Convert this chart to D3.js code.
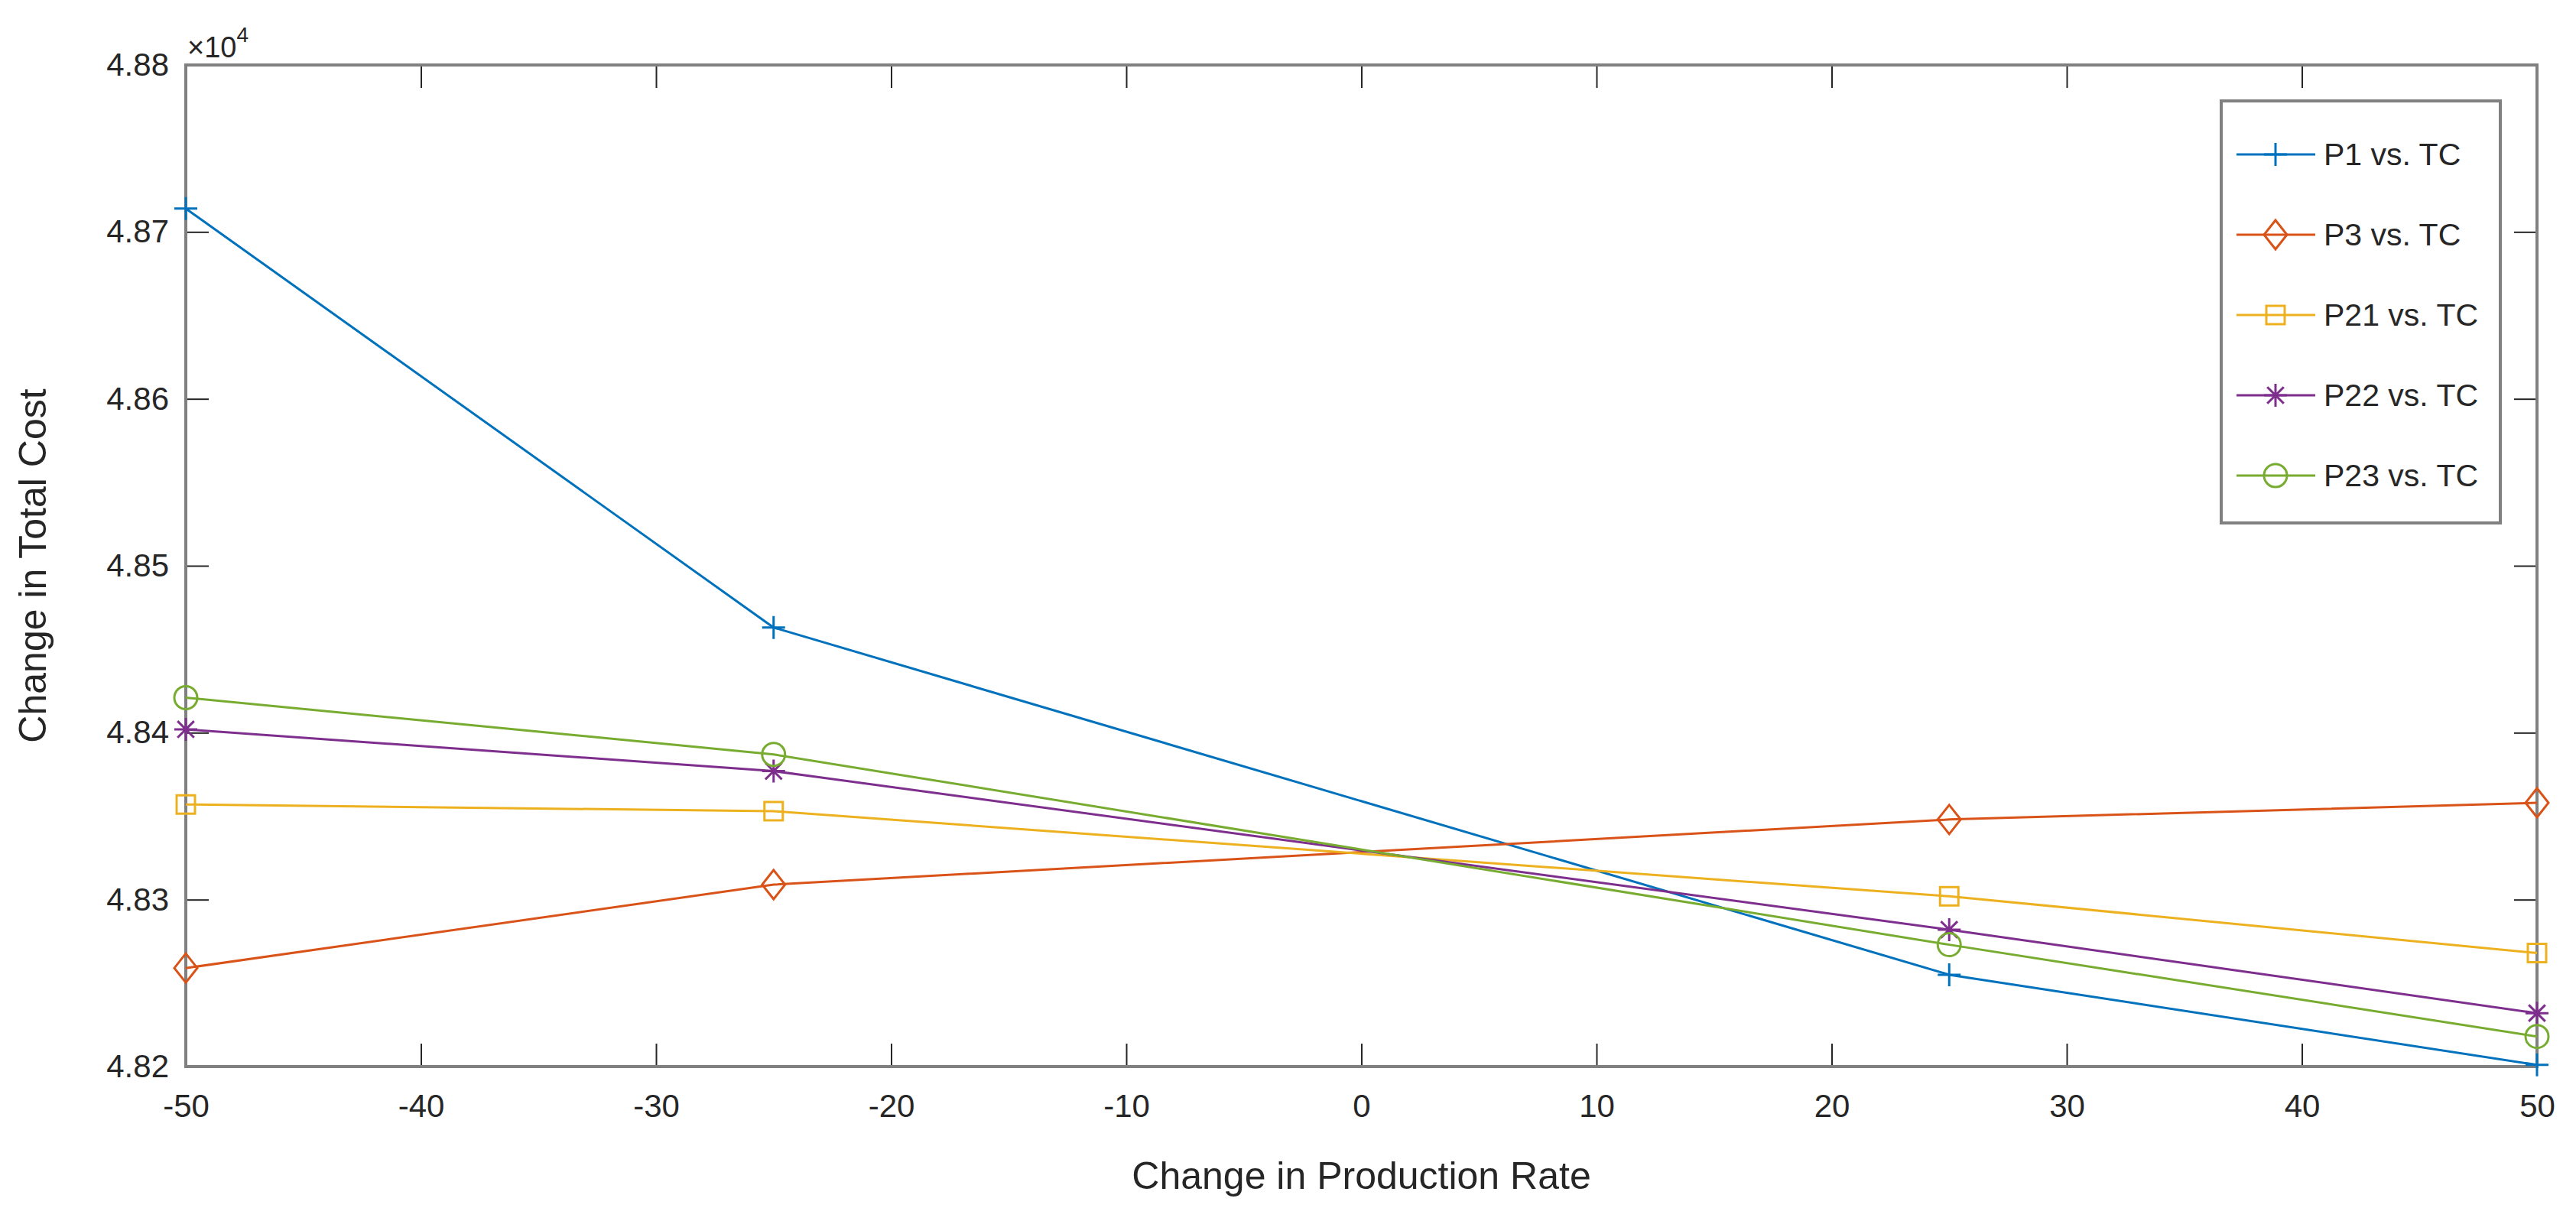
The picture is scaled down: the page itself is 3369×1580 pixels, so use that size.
<!DOCTYPE html>
<html>
<head>
<meta charset="utf-8">
<script src="https://cdn.jsdelivr.net/npm/d3@7"></script>
<style>
  body { margin: 0; background: #fff; }
  text { font-family: "Liberation Sans", Arial, sans-serif; fill: #262626; }
</style>
</head>
<body>
<div class="chart"></div>
<script>
// change in production rate (%)
var xValues = [-50, -25, 25, 50];

// total cost for each parameter
var p1Cost  = [48714, 48463, 48255, 48201];
var p3Cost  = [48259, 48309, 48348, 48358];
var p21Cost = [48357, 48353, 48302, 48268];
var p22Cost = [48402, 48377, 48282, 48232];
var p23Cost = [48421, 48387, 48273, 48218];

var seriesNames = ["P1 vs. TC", "P3 vs. TC", "P21 vs. TC", "P22 vs. TC", "P23 vs. TC"];
var seriesColors = ["#0072BD", "#D95319", "#EDB120", "#7E2F8E", "#77AC30"];
var seriesMarkers = ["plus", "diamond", "square", "star", "circle"];

var xTicks = [-50, -40, -30, -20, -10, 0, 10, 20, 30, 40, 50];
var yTicks = [48200, 48300, 48400, 48500, 48600, 48700, 48800];

var W = 3369, H = 1580;
var margin = {top: 85, right: 51, bottom: 185, left: 243},
    width = W - margin.left - margin.right,
    height = H - margin.top - margin.bottom;

var svg = d3.select(".chart")
    .append("svg")
    .attr("width", W)
    .attr("height", H)
    .append("g")
    .attr("transform", "translate(" + margin.left + "," + margin.top + ")");

var x = d3.scaleLinear().domain([-50, 50]).range([0, width]);
var y = d3.scaleLinear().domain([48200, 48800]).range([height, 0]);

var allSeries = [p1Cost, p3Cost, p21Cost, p22Cost, p23Cost].map(function(vals, i) {
    return {
        name: seriesNames[i],
        color: seriesColors[i],
        marker: seriesMarkers[i],
        points: vals.map(function(v, j) { return {x: xValues[j], y: v}; })
    };
});

// axes with inward ticks on all four sides
var tickLen = 30;
svg.append("g")
    .attr("transform", "translate(0," + height + ")")
    .call(d3.axisBottom(x).tickValues(xTicks).tickSizeInner(-tickLen).tickSizeOuter(0).tickPadding(36)
        .tickFormat(function(d) { return String(d); }))
    .call(styleAxis);
svg.append("g")
    .call(d3.axisTop(x).tickValues(xTicks).tickSizeInner(-tickLen).tickSizeOuter(0).tickFormat(""))
    .call(styleAxis);
svg.append("g")
    .call(d3.axisLeft(y).tickValues(yTicks).tickSizeInner(-tickLen).tickSizeOuter(0).tickPadding(22)
        .tickFormat(function(d) { return (d / 1e4).toFixed(2); }))
    .call(styleAxis);
svg.append("g")
    .attr("transform", "translate(" + width + ",0)")
    .call(d3.axisRight(y).tickValues(yTicks).tickSizeInner(-tickLen).tickSizeOuter(0).tickFormat(""))
    .call(styleAxis);

function styleAxis(g) {
    g.select(".domain").remove();
    g.selectAll(".tick line").attr("stroke", "#262626").attr("stroke-width", 2);
    g.selectAll(".tick text").attr("font-size", "42px").attr("fill", "#262626");
}

svg.append("rect")
    .attr("width", width)
    .attr("height", height)
    .attr("fill", "none")
    .attr("stroke", "#808080")
    .attr("stroke-width", 4);

// exponent label
var expo = svg.append("text")
    .attr("x", 2)
    .attr("y", -10)
    .attr("font-size", "38px");
expo.append("tspan").text("\u00d710");
expo.append("tspan").attr("font-size", "28px").attr("dy", -20).text("4");

// axis titles
svg.append("text")
    .attr("x", width / 2)
    .attr("y", height + 160)
    .attr("text-anchor", "middle")
    .attr("font-size", "50px")
    .text("Change in Production Rate");
svg.append("text")
    .attr("transform", "translate(" + (-183) + "," + (height / 2) + ") rotate(-90)")
    .attr("text-anchor", "middle")
    .attr("font-size", "50px")
    .text("Change in Total Cost");

function drawMarker(g, type, color) {
    var s = 15;
    if (type === "plus") {
        g.append("path").attr("d", "M" + (-s) + ",0H" + s + "M0," + (-s) + "V" + s)
            .attr("stroke", color).attr("stroke-width", 3).attr("fill", "none");
    } else if (type === "diamond") {
        g.append("path").attr("d", "M0," + (-s - 4) + "L" + s + ",0L0," + (s + 4) + "L" + (-s) + ",0Z")
            .attr("stroke", color).attr("stroke-width", 3).attr("fill", "none");
    } else if (type === "square") {
        g.append("rect").attr("x", -12).attr("y", -12).attr("width", 24).attr("height", 24)
            .attr("stroke", color).attr("stroke-width", 3).attr("fill", "none");
    } else if (type === "star") {
        var d = "M" + (-s) + ",0H" + s + "M0," + (-s) + "V" + s;
        var k = s * 0.72;
        d += "M" + (-k) + "," + (-k) + "L" + k + "," + k + "M" + (-k) + "," + k + "L" + k + "," + (-k);
        g.append("path").attr("d", d)
            .attr("stroke", color).attr("stroke-width", 3).attr("fill", "none");
    } else if (type === "circle") {
        g.append("circle").attr("r", s)
            .attr("stroke", color).attr("stroke-width", 3).attr("fill", "none");
    }
}

var line = d3.line()
    .x(function(d) { return x(d.x); })
    .y(function(d) { return y(d.y); });

allSeries.forEach(function(s) {
    svg.append("path")
        .datum(s.points)
        .attr("d", line)
        .attr("fill", "none")
        .attr("stroke", s.color)
        .attr("stroke-width", 3);
    s.points.forEach(function(p) {
        var g = svg.append("g").attr("transform", "translate(" + x(p.x) + "," + y(p.y) + ")");
        drawMarker(g, s.marker, s.color);
    });
});

// legend
var legX = 2905 - margin.left, legY = 132 - margin.top,
    legW = 3270 - 2905, legH = 684 - 132, rowH = 105;
var legend = svg.append("g").attr("transform", "translate(" + legX + "," + legY + ")");
legend.append("rect")
    .attr("width", legW)
    .attr("height", legH)
    .attr("fill", "#fff")
    .attr("stroke", "#808080")
    .attr("stroke-width", 4);
allSeries.forEach(function(s, i) {
    var cy = 70 + i * rowH;
    legend.append("line")
        .attr("x1", 20).attr("x2", 123)
        .attr("y1", cy).attr("y2", cy)
        .attr("stroke", s.color).attr("stroke-width", 3);
    drawMarker(legend.append("g").attr("transform", "translate(71," + cy + ")"), s.marker, s.color);
    legend.append("text")
        .attr("x", 134)
        .attr("y", cy)
        .attr("dy", "0.35em")
        .attr("font-size", "41px")
        .text(s.name);
});
</script>
</body>
</html>
